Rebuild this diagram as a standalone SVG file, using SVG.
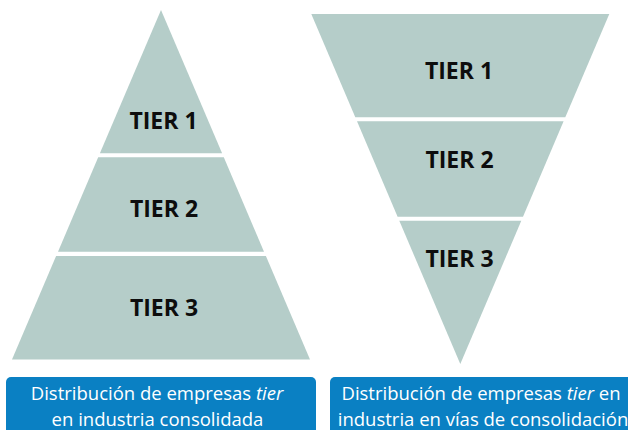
<svg xmlns="http://www.w3.org/2000/svg" width="628" height="430" viewBox="0 0 628 430">
<style>
.tier{fill:#b5cdc9}
.lbl{font-family:"Open Sans","Noto Sans",sans-serif;font-weight:bold;font-size:23px;fill:#0d0d0d;text-anchor:middle}
.box{fill:#0a80c3}
.cap{font-family:"Open Sans","Noto Sans",sans-serif;font-size:18.5px;fill:#ffffff;text-anchor:middle}
</style>
<rect width="628" height="430" fill="#ffffff"/>
<g id="left-pyramid">
<g id="l-tier1"><polygon class="tier" points="161,10 222.1,153.3 99.9,153.3"/><text class="lbl" x="163.5" y="129">TIER 1</text></g>
<g id="l-tier2"><polygon class="tier" points="98.2,157.3 223.8,157.3 264,251.7 58,251.7"/><text class="lbl" x="164" y="217">TIER 2</text></g>
<g id="l-tier3"><polygon class="tier" points="56.1,256 265.9,256 310,359.5 12,359.5"/><text class="lbl" x="164" y="316">TIER 3</text></g>
</g>
<g id="right-pyramid">
<g id="r-tier1"><polygon class="tier" points="311.3,14 609.3,14 565.3,117.3 355.3,117.3"/><text class="lbl" x="459" y="79">TIER 1</text></g>
<g id="r-tier2"><polygon class="tier" points="357,121.3 563.6,121.3 523,216.7 397.6,216.7"/><text class="lbl" x="459.5" y="168">TIER 2</text></g>
<g id="r-tier3"><polygon class="tier" points="399.3,220.7 521.3,220.7 460.3,364"/><text class="lbl" x="459.5" y="266.5">TIER 3</text></g>
</g>
<g id="left-caption">
<rect class="box" x="6" y="377" width="310" height="70" rx="5"/>
<text class="cap" x="157" y="400">Distribución de empresas <tspan font-style="italic">tier</tspan></text>
<text class="cap" x="157.5" y="425.5">en industria consolidada</text>
</g>
<g id="right-caption">
<rect class="box" x="330" y="377" width="310" height="70" rx="5"/>
<text class="cap" x="481" y="400">Distribución de empresas <tspan font-style="italic">tier</tspan> en</text>
<text class="cap" x="483" y="425.5">industria en vías de consolidación</text>
</g>
<g id="connectors"/>
</svg>
